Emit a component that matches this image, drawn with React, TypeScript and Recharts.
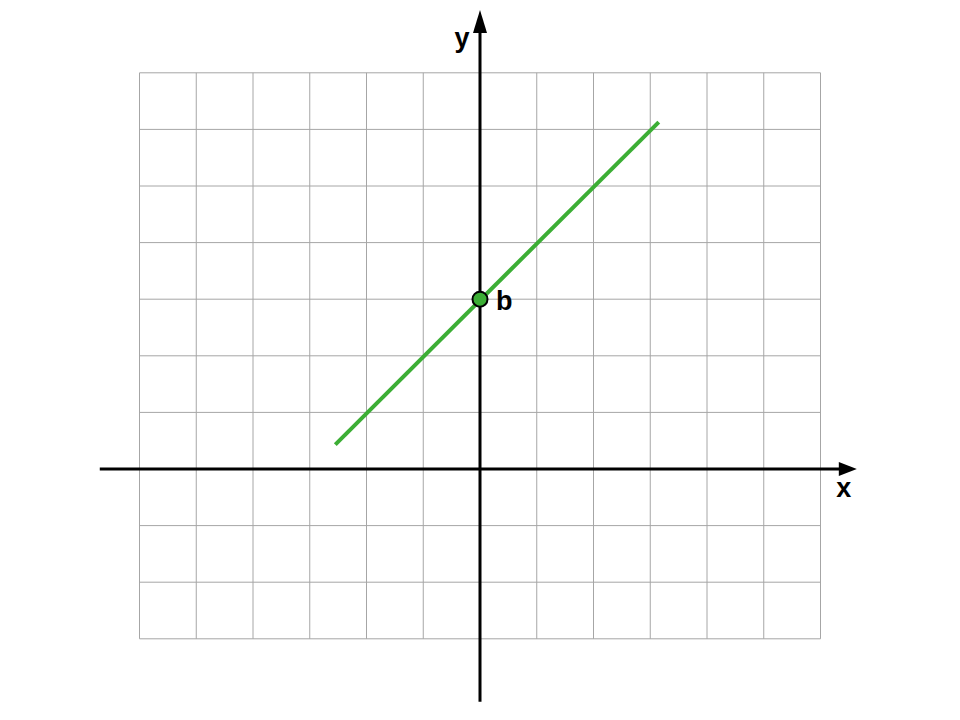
import React from 'react';
import {
  ComposedChart,
  XAxis,
  YAxis,
  Line,
  ReferenceLine,
  ReferenceDot,
} from 'recharts';

// grid cells, in axis units
const gridXs = [-6, -5, -4, -3, -2, -1, 0, 1, 2, 3, 4, 5, 6];
const gridYs = [-3, -2, -1, 0, 1, 2, 3, 4, 5, 6, 7];

// axis extents (arrow tip = end)
const xAxisFrom = -6.7;
const xAxisTip = 6.64;
const yAxisFrom = -4.11;
const yAxisTip = 8.11;

// the line y = x + b
const linePoints = [
  { x: -2.55, y: 0.43 },
  { x: 3.15, y: 6.13 },
];
const intercept = { x: 0, y: 3, label: 'b' };

const GREEN = '#3cae35';
const GRID = '#a6a6a6';
const FONT = '"Liberation Sans", Arial, sans-serif';

const RightArrow = (props: any) => {
  const { cx, cy } = props;
  return (
    <g>
      <polygon points={`${cx},${cy} ${cx - 18},${cy - 7} ${cx - 18},${cy + 7}`} fill="#000" />
      <text x={cx - 13} y={cy + 28} textAnchor="middle" fontFamily={FONT} fontWeight="bold" fontSize={27} fill="#000">
        x
      </text>
    </g>
  );
};

const UpArrow = (props: any) => {
  const { cx, cy } = props;
  return (
    <g>
      <polygon points={`${cx},${cy} ${cx - 7},${cy + 23} ${cx + 7},${cy + 23}`} fill="#000" />
      <text x={cx - 18} y={cy + 37} textAnchor="middle" fontFamily={FONT} fontWeight="bold" fontSize={27} fill="#000">
        y
      </text>
    </g>
  );
};

const InterceptDot = (props: any) => {
  const { cx, cy } = props;
  return (
    <g>
      <circle cx={cx} cy={cy} r={7.5} fill={GREEN} stroke="#000" strokeWidth={2} />
      <text x={cx + 16} y={cy + 11} fontFamily={FONT} fontWeight="bold" fontSize={27} fill="#000">
        {intercept.label}
      </text>
    </g>
  );
};

export default function App() {
  return (
    <div style={{ position: 'absolute', left: 0, top: 0, background: '#fff' }}>
      <ComposedChart
        width={960}
        height={720}
        margin={{ top: 4.88, right: 26, bottom: 13.28, left: 26 }}
      >
        <XAxis type="number" dataKey="x" domain={[-8, 8]} hide allowDataOverflow />
        <YAxis type="number" dataKey="y" domain={[-4.2, 8.2]} hide allowDataOverflow />

        {gridXs.map((gx) => (
          <ReferenceLine
            key={`gx${gx}`}
            segment={[{ x: gx, y: gridYs[0] }, { x: gx, y: gridYs[gridYs.length - 1] }]}
            stroke={GRID}
            strokeWidth={1}
          />
        ))}
        {gridYs.map((gy) => (
          <ReferenceLine
            key={`gy${gy}`}
            segment={[{ x: gridXs[0], y: gy }, { x: gridXs[gridXs.length - 1], y: gy }]}
            stroke={GRID}
            strokeWidth={1}
          />
        ))}

        {/* axes */}
        <ReferenceLine segment={[{ x: xAxisFrom, y: 0 }, { x: xAxisTip - 0.3, y: 0 }]} stroke="#000" strokeWidth={3} />
        <ReferenceLine segment={[{ x: 0, y: yAxisFrom }, { x: 0, y: yAxisTip - 0.4 }]} stroke="#000" strokeWidth={3} />

        <Line
          data={linePoints}
          dataKey="y"
          type="linear"
          stroke={GREEN}
          strokeWidth={4}
          dot={false}
          activeDot={false}
          isAnimationActive={false}
        />

        <ReferenceDot x={xAxisTip} y={0} r={0} shape={RightArrow} />
        <ReferenceDot x={0} y={yAxisTip} r={0} shape={UpArrow} />
        <ReferenceDot x={intercept.x} y={intercept.y} r={7.5} shape={InterceptDot} />
      </ComposedChart>
    </div>
  );
}
